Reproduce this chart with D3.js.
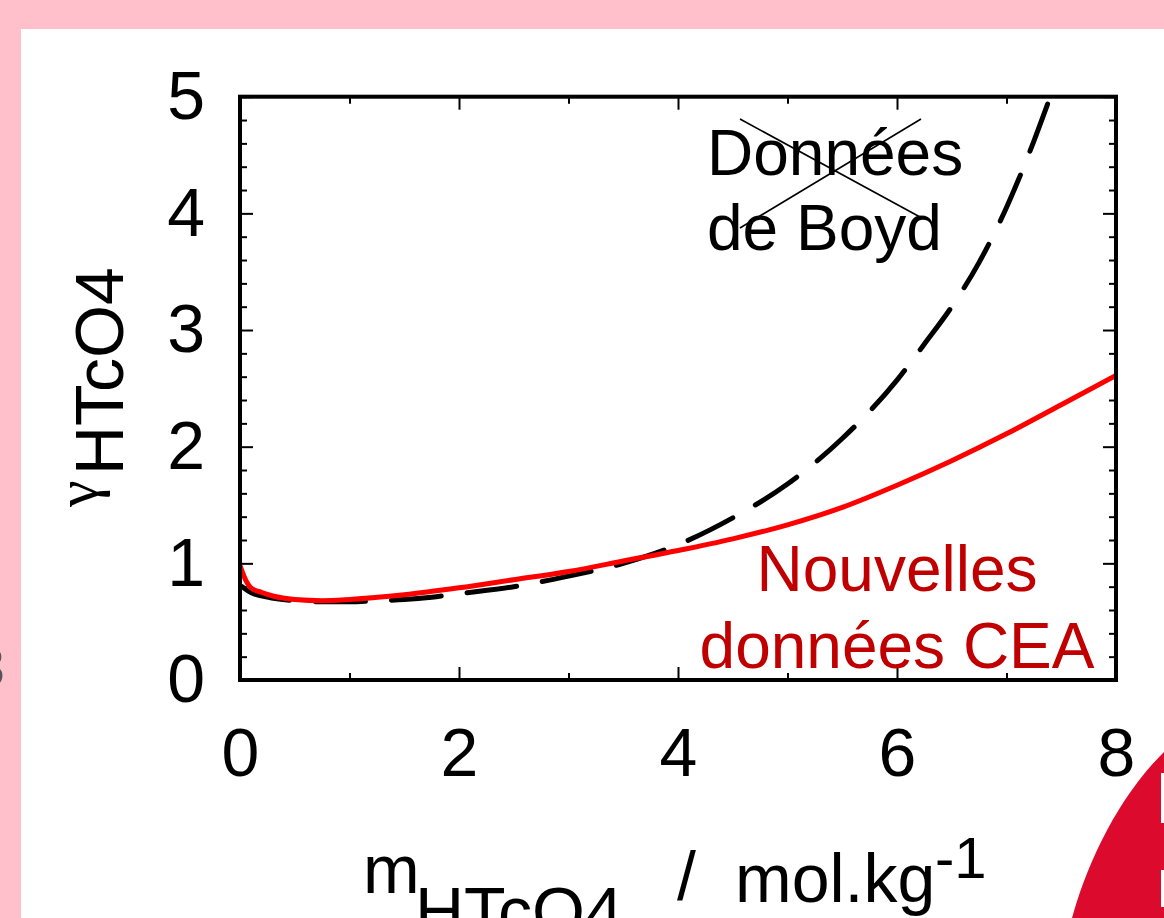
<!DOCTYPE html>
<html><head><meta charset="utf-8">
<script src="https://cdn.jsdelivr.net/npm/d3@7"></script>
<style>
html,body{margin:0;padding:0;background:#ffc0cb;}
svg{display:block;font-family:"Liberation Sans",Arial,sans-serif;}
</style></head><body>
<svg id="c" width="1164" height="918"></svg>
<script>
// ---- data ----
const cea_m     = [0, 0.05, 0.1, 0.2, 0.3, 0.5, 0.75, 1, 1.5, 2, 2.5, 3, 3.5, 4, 4.5, 5, 5.5, 6, 6.5, 7, 7.5, 8];
const cea_gamma = [0.98, 0.86, 0.79, 0.75, 0.72, 0.69, 0.68, 0.69, 0.73, 0.79, 0.86, 0.93, 1.02, 1.11, 1.21, 1.33, 1.48, 1.67, 1.88, 2.11, 2.36, 2.61];
const boyd_m     = [0.02, 0.1, 0.25, 0.5, 0.75, 1, 1.25, 1.5, 1.75, 2, 2.5, 3, 3.5, 4, 4.5, 5, 5.5, 6, 6.25, 6.5, 6.75, 7, 7.25, 7.4];
const boyd_gamma = [0.80, 0.75, 0.71, 0.68, 0.67, 0.67, 0.68, 0.69, 0.71, 0.74, 0.80, 0.89, 1.00, 1.16, 1.39, 1.68, 2.07, 2.57, 2.88, 3.20, 3.58, 4.05, 4.62, 5.0];
const xMajor = [0, 2, 4, 6, 8];
const xMinor = [1, 3, 5, 7];
const yMajor = [0, 1, 2, 3, 4, 5];
const yMinor = [0.2,0.4,0.6,0.8,1.2,1.4,1.6,1.8,2.2,2.4,2.6,2.8,3.2,3.4,3.6,3.8,4.2,4.4,4.6,4.8];
const boydLabel = ["Données", "de Boyd"];
const ceaLabel = ["Nouvelles", "données CEA"];

const svg = d3.select("#c");
const FONT = 68;

// background card
svg.append("rect").attr("x",0).attr("y",0).attr("width",1164).attr("height",918).attr("fill","#ffc0cb");
svg.append("rect").attr("x",21).attr("y",29).attr("width",1143).attr("height",889).attr("fill","#ffffff");
// fragment of neighbouring slide text at left
svg.append("text").attr("x",5).attr("y",686).attr("text-anchor","end")
  .attr("font-size",56).attr("fill","#555").text("3");

const L = 240, R = 1116, T = 96.7, B = 680;
const x = d3.scaleLinear().domain([0,8]).range([L,R]);
const y = d3.scaleLinear().domain([0,5]).range([B,T]);

function styleAxis(g, size){
  g.select(".domain").remove();
  g.selectAll("line").attr("stroke","#000").attr("stroke-width",2);
  g.selectAll("text").attr("font-size",size).attr("font-family","'Liberation Sans',Arial,sans-serif").attr("fill","#000");
}
// major ticks with labels
styleAxis(svg.append("g").attr("transform",`translate(0,${B})`)
  .call(d3.axisBottom(x).tickValues(xMajor).tickSize(-13).tickPadding(48).tickFormat(d3.format("d"))), FONT);
styleAxis(svg.append("g").attr("transform",`translate(${L},0)`)
  .call(d3.axisLeft(y).tickValues(yMajor).tickSize(-13).tickPadding(35).tickFormat(d3.format("d"))), FONT);
// mirrored ticks
styleAxis(svg.append("g").attr("transform",`translate(0,${T})`)
  .call(d3.axisTop(x).tickValues(xMajor).tickSize(-13).tickFormat("")), FONT);
styleAxis(svg.append("g").attr("transform",`translate(${R},0)`)
  .call(d3.axisRight(y).tickValues(yMajor).tickSize(-13).tickFormat("")), FONT);
// minor ticks
styleAxis(svg.append("g").attr("transform",`translate(0,${B})`)
  .call(d3.axisBottom(x).tickValues(xMinor).tickSize(-7).tickFormat("")), FONT);
styleAxis(svg.append("g").attr("transform",`translate(0,${T})`)
  .call(d3.axisTop(x).tickValues(xMinor).tickSize(-7).tickFormat("")), FONT);
styleAxis(svg.append("g").attr("transform",`translate(${L},0)`)
  .call(d3.axisLeft(y).tickValues(yMinor).tickSize(-7).tickFormat("")), FONT);
styleAxis(svg.append("g").attr("transform",`translate(${R},0)`)
  .call(d3.axisRight(y).tickValues(yMinor).tickSize(-7).tickFormat("")), FONT);

// clip
svg.append("clipPath").attr("id","clip").append("rect")
  .attr("x",L).attr("y",T).attr("width",R-L).attr("height",B-T);

const line = d3.line().x(d=>x(d[0])).y(d=>y(d[1])).curve(d3.curveMonotoneX);
const plot = svg.append("g").attr("clip-path","url(#clip)");
plot.append("path").datum(boyd_m.map((m,i)=>[m,boyd_gamma[i]]))
  .attr("d",line).attr("fill","none").attr("stroke","#000").attr("stroke-width",5)
  .attr("stroke-dasharray","50,26").attr("stroke-linecap","round");
plot.append("path").datum(cea_m.map((m,i)=>[m,cea_gamma[i]]))
  .attr("d",line).attr("fill","none").attr("stroke","#ff0000").attr("stroke-width",5);

// frame
svg.append("rect").attr("x",x(0)).attr("y",y(5)).attr("width",x(8)-x(0)).attr("height",y(0)-y(5))
  .attr("fill","none").attr("stroke","#000").attr("stroke-width",4);

// Boyd label with cross
const bl = svg.append("text").attr("font-size",64).attr("fill","#000");
boydLabel.forEach((t,i)=> bl.append("tspan").attr("x",707).attr("y",175+i*75).text(t));
svg.append("line").attr("x1",740).attr("y1",119).attr("x2",920).attr("y2",217).attr("stroke","#000").attr("stroke-width",1.6);
svg.append("line").attr("x1",921).attr("y1",119).attr("x2",740).attr("y2",228).attr("stroke","#000").attr("stroke-width",1.6);

// CEA label
const cl = svg.append("text").attr("font-size",64).attr("fill","#c00000").attr("text-anchor","middle");
ceaLabel.forEach((t,i)=> cl.append("tspan").attr("x",897).attr("y",591+i*77).text(t));

// y title
const yt = svg.append("g").attr("transform","translate(123,507) rotate(-90)");
yt.append("text").attr("x",0).attr("y",-26).attr("font-size",60)
  .attr("font-family","'Liberation Serif','Times New Roman',serif").text("γ");
yt.append("text").attr("x",32).attr("y",0).attr("font-size",FONT).text("HTcO4");

// x title
svg.append("text").attr("x",363).attr("y",893).attr("font-size",FONT).text("m");
svg.append("text").attr("x",415).attr("y",935).attr("font-size",FONT).text("HTcO4");
svg.append("text").attr("x",677).attr("y",900).attr("font-size",FONT).text("/");
svg.append("text").attr("x",735).attr("y",902).attr("font-size",FONT).text("mol.kg");
svg.append("text").attr("x",935).attr("y",878).attr("font-size",58).text("-1");

// neighbouring red shape at bottom right
svg.append("path")
  .attr("d","M1072,918 C1085,870 1115,800 1164,752 L1164,918 Z")
  .attr("fill","#dc0a2d");
svg.append("rect").attr("x",1161).attr("y",773).attr("width",3).attr("height",50).attr("fill","#fff");
svg.append("rect").attr("x",1161).attr("y",870).attr("width",3).attr("height",37).attr("fill","#fff");
</script>
</body></html>
